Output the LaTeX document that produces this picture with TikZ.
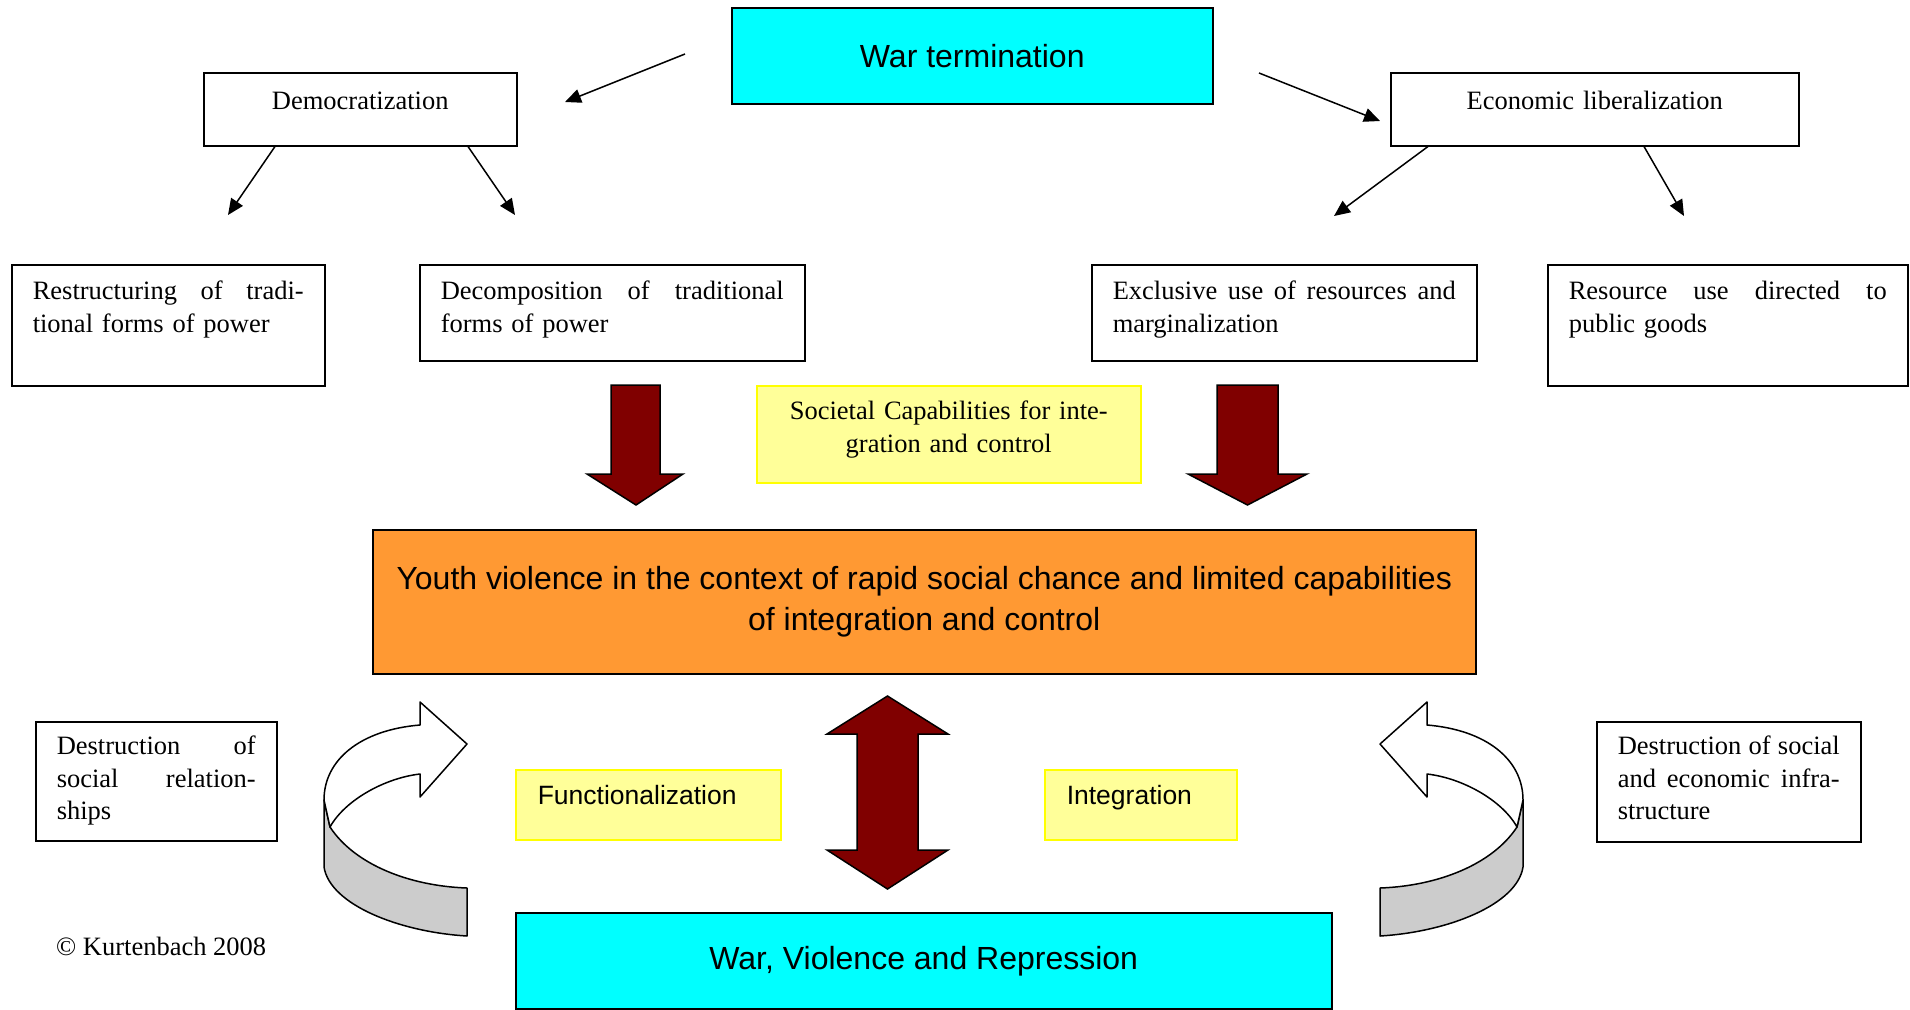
\documentclass[tikz,border=0pt]{standalone}
\usepackage{fontspec}
\setmainfont{Liberation Serif}
\setsansfont{Liberation Sans}
\usepackage{xcolor}
\usepackage{tikz}
\usetikzlibrary{arrows.meta}
\definecolor{warCyan}{RGB}{0,255,255}
\definecolor{bloodRed}{RGB}{128,0,0}
\definecolor{youthOrange}{RGB}{255,153,51}
\definecolor{noteYellow}{RGB}{255,255,153}
\definecolor{noteEdge}{RGB}{255,255,0}
\definecolor{bandGray}{RGB}{204,204,204}
% curled 3d arrow, drawn once on the left and mirrored on the right
\newcommand{\bentarrow}{%
  \filldraw[fill=bandGray, line width=1.5pt, line join=round] (324,800) -- (324,867)
    .. controls (330,905) and (400,932) .. (467,936) -- (467,888)
    .. controls (410,886) and (355,865) .. (330,827) -- cycle;
  \filldraw[fill=white, line width=1.5pt, line join=round] (324,800)
    .. controls (324,760) and (360,730) .. (420,725) -- (420,702) -- (467,744)
    -- (420,797) -- (420,774) .. controls (385,778) and (345,800) .. (330,827) -- cycle;
}

\begin{document}
\begin{tikzpicture}[x=1pt, y=-1pt,
    box/.style={draw, line width=1.5pt, anchor=north west, inner xsep=21pt, inner ysep=0pt, align=left, font=\fontsize{26.5}{32.5}\selectfont},
    note/.style={box, draw=noteEdge, fill=noteYellow},
    headbox/.style={draw, line width=1.5pt, fill=#1, anchor=north west, align=center, font=\sffamily\fontsize{32}{41}\selectfont},
    arrow/.style={-{Triangle[length=16pt,width=14pt]}, line width=1.5pt},
    block/.style={draw, line width=1.5pt, fill=bloodRed, line join=miter}
]
\useasboundingbox (0,0) rectangle (1910,1009);

% top row
\node[headbox=warCyan, minimum width=481pt, minimum height=96pt] (war) at (731,7) {War termination};
\node[box, align=center, text width=271pt, text height=37pt, text depth=36pt] (demo) at (203,72) {Democratization};
\node[box, align=center, text width=366pt, text height=37pt, text depth=36pt] (econ) at (1390,72) {Economic liberalization};

% second row
\node[box, text width=271pt, text height=35pt, text depth=86pt] (restr) at (11,264) {Restructuring\hfill of\hfill tradi-\\tional forms of power};
\node[box, text width=343pt, text height=35pt, text depth=61pt] (decomp) at (419,264) {Decomposition\hfill of\hfill traditional\\forms of power};
\node[box, text width=343pt, text height=35pt, text depth=61pt] (excl) at (1091,264) {Exclusive\hfill use\hfill of\hfill resources\hfill and\\marginalization};
\node[box, text width=318pt, text height=35pt, text depth=86pt] (resuse) at (1547,264) {Resource\hfill use\hfill directed\hfill to\\public goods};
\node[note, align=center, text width=342pt, text height=34pt, text depth=63pt] (capab) at (756,385) {Societal Capabilities for inte-\\gration and control};

% centre
\node[headbox=youthOrange, minimum width=1103pt, minimum height=144pt] (youth) at (372,529) {Youth violence in the context of rapid social chance and limited capabilities\\of integration and control};
\node[note, inner xsep=22pt, font=\sffamily\fontsize{26.5}{32.5}\selectfont, text width=221pt, text height=35pt, text depth=35pt] (funct) at (515,769) {Functionalization};
\node[note, inner xsep=22pt, font=\sffamily\fontsize{26.5}{32.5}\selectfont, text width=148pt, text height=35pt, text depth=35pt] (integ) at (1044,769) {Integration};
\node[box, text width=199pt, text height=33pt, text depth=86pt] (destrL) at (35,721) {Destruction\hfill of\\social\hfill relation-\\ships};
\node[box, text width=222pt, text height=33pt, text depth=87pt] (destrR) at (1596,721) {Destruction\hfill of\hfill social\\and\hfill economic\hfill infra-\\structure};
\node[headbox=warCyan, minimum width=816pt, minimum height=96pt] (violence) at (515,912) {War, Violence and Repression};
\node[anchor=base west, inner sep=0pt, font=\fontsize{26.5}{32.5}\selectfont] (copy) at (56,955) {© Kurtenbach 2008};

% thin arrows
\coordinate (warOutL) at (685,54);
\coordinate (demoIn) at (565,102);
\coordinate (warOutR) at (1259,73);
\coordinate (econIn) at (1380,121);
\coordinate (restrIn) at (228,215);
\coordinate (decompIn) at (515,215);
\coordinate (exclIn) at (1334,216);
\coordinate (resuseIn) at (1684,216);
\draw[arrow] (warOutL) -- (demoIn);
\draw[arrow] (warOutR) -- (econIn);
\draw[arrow] ([xshift=72pt]demo.south west) -- (restrIn);
\draw[arrow] ([xshift=265pt]demo.south west) -- (decompIn);
\draw[arrow] ([xshift=38pt]econ.south west) -- (exclIn);
\draw[arrow] ([xshift=254pt]econ.south west) -- (resuseIn);

% block arrows
\filldraw[block] (611,385) -- (660,385) -- (660,474) -- (683,474) -- (636,505) -- (587,474) -- (611,474) -- cycle;
\filldraw[block] (1217,385) -- (1278,385) -- (1278,474) -- (1307,474) -- (1247.5,505) -- (1188,474) -- (1217,474) -- cycle;
\filldraw[block] (887.5,696) -- (948,734) -- (918,734) -- (918,850) -- (948,850) -- (887.5,889)
  -- (827,850) -- (857,850) -- (857,734) -- (827,734) -- cycle;

% curled arrows
\bentarrow
\begin{scope}[xshift=1847pt, xscale=-1]
\bentarrow
\end{scope}
\end{tikzpicture}
\end{document}
